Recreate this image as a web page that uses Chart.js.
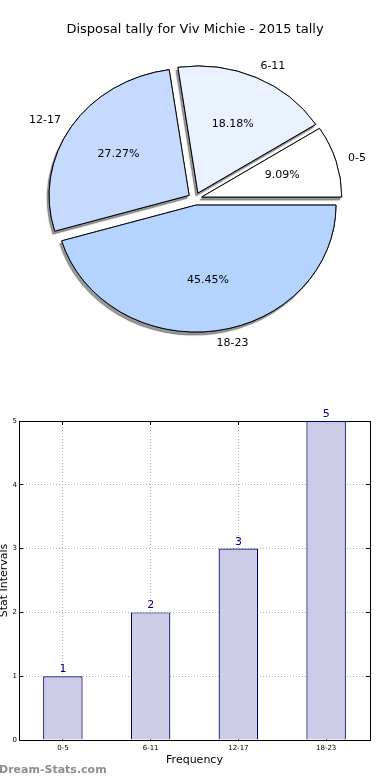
<!DOCTYPE html>
<html lang="en">
<head>
  <meta charset="UTF-8">
  <title>Disposal tally for Viv Michie - 2015 tally</title>
  <script src="https://cdn.jsdelivr.net/npm/chart.js@4"></script>
  <style>
    body { margin: 0; background: #fff; }
    .box { position: absolute; left: 0; width: 390px; }
    #pieBox { top: 0; height: 390px; }
    #barBox { top: 400px; height: 380px; }
  </style>
</head>
<body>
  <div class="box" id="pieBox"><canvas id="pieChart"></canvas></div>
  <div class="box" id="barBox"><canvas id="barChart"></canvas></div>

  <script>
    const categories = ['0-5', '6-11', '12-17', '18-23'];
    const counts = [1, 2, 3, 5];
    const sliceColors = ['#ffffff', '#eaf1ff', '#c6d9ff', '#b4d4ff'];
    const yTicks = [0, 1, 2, 3, 4, 5];

    const total = counts.reduce((a, b) => a + b, 0);
    const percents = counts.map(c => (c / total * 100).toFixed(2) + '%');

    // chart.js goes clockwise, matplotlib counter-clockwise: reverse for the pie
    const pieLabels = categories.slice().reverse();
    const pieCounts = counts.slice().reverse();
    const pieColors = sliceColors.slice().reverse();
    const piePercents = percents.slice().reverse();

    const pieExplode = 7;
    const pieSquash = 0.907;

    Chart.defaults.font.family = '"DejaVu Sans", sans-serif';
    Chart.defaults.color = '#000';

    function drawArcs(ctx, arcs) {
      arcs.forEach(arc => {
        const mid = (arc.startAngle + arc.endAngle) / 2;
        ctx.save();
        ctx.translate(Math.cos(mid) * pieExplode, Math.sin(mid) * pieExplode);
        arc.draw(ctx);
        ctx.restore();
      });
    }

    const explodedPie = {
      id: 'explodedPie',
      beforeDatasetDraw(chart, args) {
        const ctx = chart.ctx;
        const arcs = args.meta.data;
        const cx = arcs[0].x, cy = arcs[0].y;
        ctx.save();
        ctx.translate(cx, cy);
        ctx.scale(1, pieSquash);
        ctx.translate(-cx, -cy);
        // shadow pass, then clean pass on top
        ctx.save();
        ctx.shadowColor = 'rgba(0,0,0,0.4)';
        ctx.shadowOffsetX = -2;
        ctx.shadowOffsetY = 3;
        ctx.shadowBlur = 1;
        drawArcs(ctx, arcs);
        ctx.restore();
        drawArcs(ctx, arcs);
        ctx.restore();
        return false;
      },
      afterDatasetsDraw(chart) {
        const ctx = chart.ctx;
        const arcs = chart.getDatasetMeta(0).data;
        ctx.save();
        ctx.font = '11px "DejaVu Sans"';
        ctx.fillStyle = '#000';
        ctx.textBaseline = 'middle';
        arcs.forEach((arc, i) => {
          const mid = (arc.startAngle + arc.endAngle) / 2;
          const r = arc.outerRadius;
          const place = k => ({
            x: arc.x + Math.cos(mid) * (pieExplode + r * k),
            y: arc.y + Math.sin(mid) * (pieExplode + r * k) * pieSquash
          });
          const out = place(1.1);
          const right = Math.cos(mid) >= 0;
          ctx.textAlign = right ? 'left' : 'right';
          ctx.fillText(pieLabels[i], out.x + (right ? -1.5 : 1.5), out.y);
          const inner = place(0.6);
          ctx.textAlign = 'center';
          ctx.fillText(piePercents[i], inner.x, inner.y);
        });
        ctx.restore();
      }
    };

    new Chart(document.getElementById('pieChart'), {
      type: 'pie',
      data: {
        labels: pieLabels,
        datasets: [{
          data: pieCounts,
          backgroundColor: pieColors,
          borderColor: '#000',
          borderWidth: 1,
          borderJoinStyle: 'miter',
          hoverOffset: 0
        }]
      },
      options: {
        responsive: true,
        maintainAspectRatio: false,
        animation: false,
        events: [],
        rotation: 90,
        radius: 140,
        layout: { padding: { bottom: 40 } },
        plugins: {
          legend: { display: false },
          tooltip: { enabled: false },
          title: {
            display: true,
            text: 'Disposal tally for Viv Michie - 2015 tally',
            color: '#000',
            font: { size: 13, weight: 'normal' },
            padding: { top: 22, bottom: 10 }
          }
        }
      },
      plugins: [explodedPie]
    });

    // bar chart
    const valueLabels = {
      id: 'valueLabels',
      afterDatasetsDraw(chart) {
        const ctx = chart.ctx;
        ctx.save();
        ctx.font = '11px "DejaVu Sans"';
        ctx.fillStyle = '#000080';
        ctx.textAlign = 'center';
        ctx.textBaseline = 'alphabetic';
        chart.getDatasetMeta(0).data.forEach((bar, i) => {
          ctx.fillText(String(counts[i]), bar.x, bar.y - 4);
        });
        ctx.restore();
      },
      afterDraw(chart) {
        const ctx = chart.ctx;
        ctx.save();
        ctx.font = 'bold 11px "DejaVu Sans"';
        ctx.fillStyle = '#8e8e8e';
        ctx.textAlign = 'left';
        ctx.textBaseline = 'middle';
        ctx.fillText('Dream-Stats.com', -1, 370);
        ctx.restore();
      }
    };

    const frame = { color: '#000', width: 1, dash: [1, 2] };

    new Chart(document.getElementById('barChart'), {
      type: 'bar',
      data: {
        labels: categories,
        datasets: [{
          data: counts,
          backgroundColor: '#ccccE6',
          borderColor: '#000070',
          borderWidth: 1.2,
          barPercentage: 0.45,
          categoryPercentage: 1
        }]
      },
      options: {
        responsive: true,
        maintainAspectRatio: false,
        animation: false,
        events: [],
        layout: { padding: { top: 21, right: 20, left: 0, bottom: 0 } },
        plugins: { legend: { display: false }, tooltip: { enabled: false } },
        scales: {
          x: {
            offset: true,
            z: 1,
            grid: { offset: false, color: '#b0b0b0', tickLength: -4, tickColor: '#000' },
            border: frame,
            ticks: { color: '#000', font: { size: 7 }, padding: 8, maxRotation: 0 },
            title: {
              display: true, text: 'Frequency', color: '#000',
              font: { size: 11 }, padding: { top: 0, bottom: 13 }
            },
            afterFit: s => { s.height = 40; }
          },
          x2: {
            type: 'category',
            position: 'top',
            offset: true,
            z: 1,
            grid: { offset: false, drawOnChartArea: false, tickLength: -4, tickColor: '#000' },
            border: frame,
            ticks: { display: false },
            afterFit: s => { s.height = 0; }
          },
          y: {
            min: yTicks[0],
            max: yTicks[yTicks.length - 1],
            z: 1,
            grid: { color: '#b0b0b0', tickLength: -4, tickColor: '#000' },
            border: frame,
            ticks: { stepSize: 1, color: '#000', font: { size: 7 }, padding: 6 },
            title: {
              display: true, text: 'Stat Intervals', color: '#000',
              font: { size: 11 }, padding: { top: -2.5, bottom: 0 }
            },
            afterFit: s => { s.width = 19; }
          },
          y2: {
            type: 'linear',
            position: 'right',
            min: yTicks[0],
            max: yTicks[yTicks.length - 1],
            z: 1,
            grid: { drawOnChartArea: false, tickLength: -4, tickColor: '#000' },
            border: frame,
            ticks: { display: false, stepSize: 1 },
            afterFit: s => { s.width = 0; }
          }
        }
      },
      plugins: [valueLabels]
    });
  </script>
</body>
</html>
